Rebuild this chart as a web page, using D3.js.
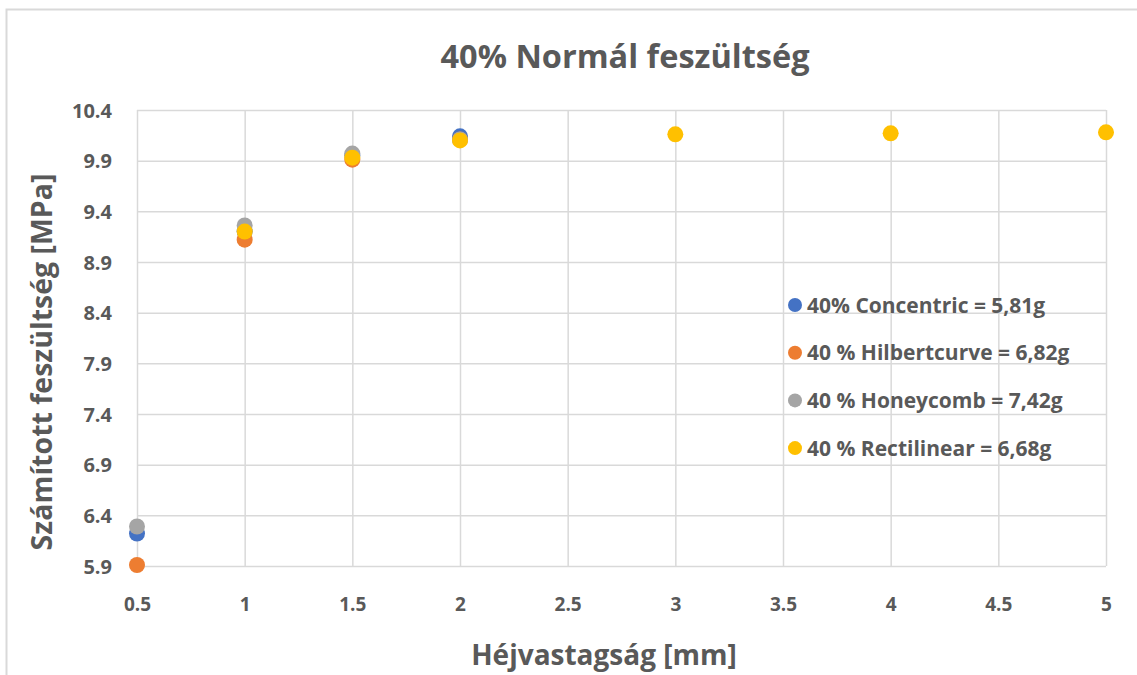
<!DOCTYPE html>
<html><head><meta charset="utf-8">
<script src="https://cdn.jsdelivr.net/npm/d3@7"></script>
<style>
body{margin:0;background:#fff;}
svg{display:block;}
text{font-family:"Open Sans","Lato",sans-serif;fill:#595959;font-weight:bold;}
</style></head>
<body><svg id="c" width="1137" height="675"></svg>
<script>
const xValues = [0.5, 1, 1.5, 2, 3, 4, 5];
const concentric = [6.22, 9.2, 9.95, 10.14, null, null, null];
const hilbertcurve = [5.91, 9.12, 9.91, 10.11, null, null, null];
const honeycomb = [6.29, 9.26, 9.97, 10.11, null, null, null];
const rectilinear = [null, 9.2, 9.93, 10.1, 10.16, 10.17, 10.18];
const seriesNames = ["40% Concentric = 5,81g", "40 % Hilbertcurve = 6,82g", "40 % Honeycomb = 7,42g", "40 % Rectilinear = 6,68g"];
const seriesColors = ["#4472C4", "#ED7D31", "#A5A5A5", "#FFC000"];
const xTicks = [0.5, 1, 1.5, 2, 2.5, 3, 3.5, 4, 4.5, 5];
const yTicks = [5.9, 6.4, 6.9, 7.4, 7.9, 8.4, 8.9, 9.4, 9.9, 10.4];
const titleText = "40% Normál feszültség";
const xTitle = "Héjvastagság [mm]";
const yTitle = "Számított feszültség [MPa]";

const series = [concentric, hilbertcurve, honeycomb, rectilinear];
const svg = d3.select("#c");
const m = {l:137, r:1106, t:110, b:566};
const x = d3.scaleLinear().domain([0.5,5]).range([m.l,m.r]);
const y = d3.scaleLinear().domain([5.9,10.4]).range([m.b,m.t]);

// frame
svg.append("rect").attr("x",6.5).attr("y",9.5).attr("width",1200).attr("height",700)
  .attr("fill","none").attr("stroke","#d9d9d9").attr("stroke-width",2);

// grid
const gx = svg.append("g").attr("transform",`translate(0,${m.b})`)
  .call(d3.axisBottom(x).tickValues(xTicks).tickSize(-(m.b-m.t)).tickFormat(d=>d));
gx.select(".domain").remove();
gx.selectAll("line").attr("stroke","#d9d9d9").attr("stroke-width",1.5);
gx.selectAll("text").attr("dy",0).attr("y",45).style("font-size","19px");

const gy = svg.append("g").attr("transform",`translate(${m.l},0)`)
  .call(d3.axisLeft(y).tickValues(yTicks).tickSize(-(m.r-m.l)).tickFormat(d3.format(".1f")));
gy.select(".domain").remove();
gy.selectAll("line").attr("stroke","#d9d9d9").attr("stroke-width",1.5);
gy.selectAll("text").attr("x",-25).attr("dy","0.35em").style("font-size","20px");

// points
series.forEach((s,i)=>{
  svg.append("g").selectAll("circle")
    .data(xValues.map((xv,j)=>({x:xv,y:s[j]})).filter(d=>d.y!=null))
    .join("circle")
    .attr("cx",d=>x(d.x)).attr("cy",d=>y(d.y)).attr("r",8)
    .attr("fill",seriesColors[i]);
});

// legend
const lg = svg.append("g");
seriesNames.forEach((n,i)=>{
  const yy = 305 + i*47.7;
  lg.append("circle").attr("cx",795).attr("cy",yy).attr("r",7).attr("fill",seriesColors[i]);
  lg.append("text").attr("x",807).attr("y",yy).attr("dy","0.36em").style("font-size","21px").text(n);
});

// titles
svg.append("text").attr("x",625).attr("y",68).attr("text-anchor","middle")
  .style("font-size","32.5px").text(titleText);
svg.append("text").attr("x",604).attr("y",655).attr("dy","0.35em").attr("text-anchor","middle")
  .style("font-size","28px").text(xTitle);
svg.append("text").attr("transform","translate(42,362) rotate(-90)").attr("dy","0.35em").attr("text-anchor","middle")
  .style("font-size","28.5px").text(yTitle);
</script></body></html>
